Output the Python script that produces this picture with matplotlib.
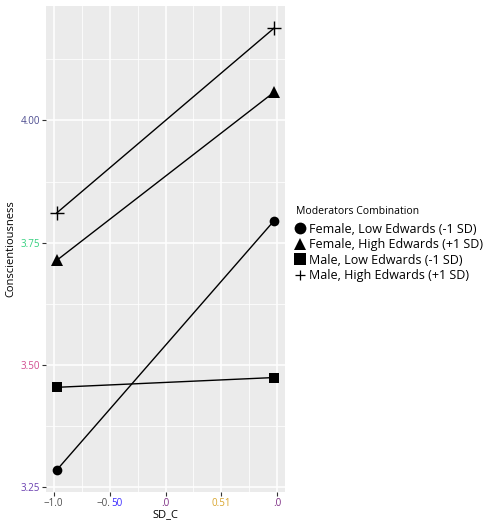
import matplotlib
matplotlib.use("Agg")
import matplotlib.pyplot as plt
from matplotlib.lines import Line2D

plt.rcParams['font.family'] = ['Open Sans', 'DejaVu Sans']

# ---- data ----
x_levels = [-0.97, 0.97]
female_low = [3.285, 3.795]
female_high = [3.714, 4.058]
male_low = [3.454, 3.474]
male_high = [3.811, 4.189]
series_names = ["Female, Low Edwards (-1 SD)", "Female, High Edwards (+1 SD)",
                "Male, Low Edwards (-1 SD)", "Male, High Edwards (+1 SD)"]
x_ticks = [-1.0, -0.5, 0.0, 0.5, 1.0]
x_ticklabels = ["\u22121.0", "\u22120.50", ".0", "0.51", ".0"]
x_tick_colors = ["#4d4d4d", "#4d4d4d", "#7b2a82", "#d9a62e", "#7b2a82"]
y_ticks = [3.25, 3.50, 3.75, 4.00]
y_ticklabels = ["3.25", "3.50", "3.75", "4.00"]
y_tick_colors = ["#6a3fb0", "#d14b8f", "#35d07f", "#4b4b8f"]

fig = plt.figure(figsize=(4.86, 5.2), dpi=100)
ax = fig.add_axes([46/486, 28/520, (285-46)/486, (492-6)/520])
ax.set_facecolor("#EBEBEB")
for s in ax.spines.values():
    s.set_visible(False)

series = [female_low, female_high, male_low, male_high]
markers = ['o', '^', 's', '+']
msizes = [7, 8, 7.5, 10]
for ys, m, ms, name in zip(series, markers, msizes, series_names):
    ax.plot(x_levels, ys, color='black', lw=1.0, zorder=3)
    ax.plot(x_levels, ys, linestyle='none', marker=m, ms=ms, color='black',
            mew=1.0 if m == '+' else 0, zorder=4, label=name)

xr = x_levels[1] - x_levels[0]
ax.set_xlim(x_levels[0] - 0.05*xr, x_levels[1] + 0.05*xr)
allv = female_low + female_high + male_low + male_high
ymin, ymax = min(allv), max(allv)
yr = ymax - ymin
ax.set_ylim(ymin - 0.05*yr, ymax + 0.05*yr)

ax.set_xticks(x_ticks)
ax.set_xticks([-0.75, -0.25, 0.25, 0.75], minor=True)
ax.set_yticks(y_ticks)
ax.set_yticks([3.375, 3.625, 3.875, 4.125], minor=True)
ax.grid(which='major', color='white', lw=1.1)
ax.grid(which='minor', color='white', lw=0.55)
ax.set_axisbelow(True)
ax.tick_params(which='major', length=2.7, width=0.8, color='#333333', labelsize=7, pad=1.5)
ax.tick_params(which='minor', length=0)

ax.set_yticklabels(y_ticklabels)
for lab, c in zip(ax.get_yticklabels(), y_tick_colors):
    lab.set_color(c)

ax.set_xticklabels(x_ticklabels)
fig.canvas.draw()
for i, (lab, c) in enumerate(zip(ax.get_xticklabels(), x_tick_colors)):
    lab.set_color(c)
    if i == 1:
        lab.set_alpha(0)
        ax.annotate("\u22120.", xy=(0, 0), xycoords=lab, ha='left', va='bottom',
                    fontsize=7, color="#4d4d4d")
        ax.annotate("50", xy=(1, 0), xycoords=lab, ha='right', va='bottom',
                    fontsize=7, color="#3b2bff")

ax.set_xlabel("SD_C", fontsize=8, labelpad=0)
ax.set_ylabel("Conscientiousness", fontsize=8, labelpad=3)

handles = [Line2D([], [], linestyle='none', marker=m, ms=ms, color='black',
                  mew=0.9 if m == '+' else 0)
           for m, ms in zip(markers, [8.5, 9, 8.5, 7])]
leg = fig.legend(handles, series_names, title="Moderators Combination",
                 loc='upper left', bbox_to_anchor=(296/486, 1 - 206/520),
                 frameon=False, fontsize=9, title_fontsize=7.5,
                 handlelength=0.7, handletextpad=0.35, labelspacing=0.2,
                 borderaxespad=0, borderpad=0)
leg._legend_box.align = "left"
leg._legend_box.sep = 4

fig.savefig("out.png", dpi=100)
